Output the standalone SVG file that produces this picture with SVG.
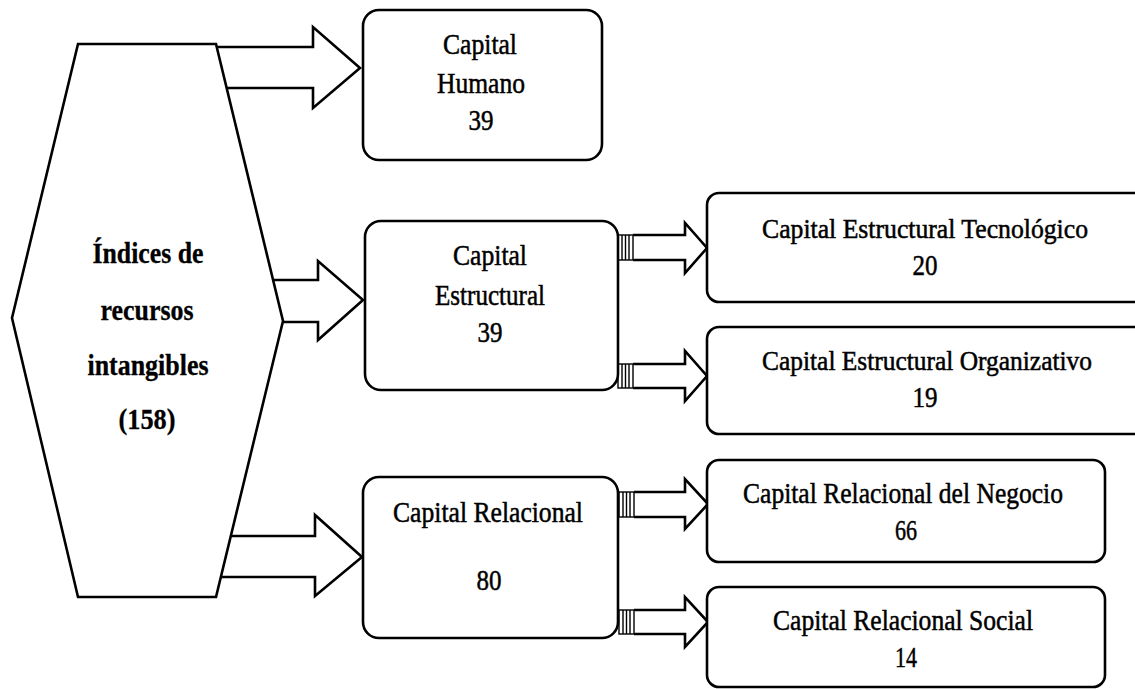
<svg xmlns="http://www.w3.org/2000/svg" width="1135" height="689" viewBox="0 0 1135 689">
<style>
.shape{fill:#fff;stroke:#000;stroke-width:2.6;stroke-linejoin:miter}
.box{fill:#fff;stroke:#000;stroke-width:2.6}
.arrow{fill:#fff;stroke:#000;stroke-width:2.6;stroke-linejoin:miter}
.hatch{fill:#fff;stroke:#000;stroke-width:1.4}
.t{font-family:"Liberation Serif","Times New Roman",serif;font-size:29px;fill:#000;stroke:#000;stroke-width:0.5;text-anchor:middle}
.s{font-size:27px}
.b{font-weight:bold;font-size:30px;stroke-width:0.3}
</style>
<rect width="1135" height="689" fill="#fff"/>
<g id="connectors">
<path class="arrow" d="M216.7,47 H313 V27 L360,68 L313,108 V88 H226.6"/>
<path class="arrow" d="M273,280 H318 V261 L363,300 L318,340 V322 H283"/>
<path class="arrow" d="M231,536 H315 V515 L362,557 L315,596 V577 H221"/>
<path class="arrow" d="M633,235 H685 V223 L707,248 L685,273 V260 H633"/>
<path class="arrow" d="M633,364 H685 V351 L707,376 L685,401 V388 H633"/>
<path class="arrow" d="M634,492 H685 V479 L708,504 L685,529 V517 H634"/>
<path class="arrow" d="M634,610 H685 V597 L708,622 L685,647 V634 H634"/>
<g class="hatch">
<rect x="618" y="235" width="15" height="25"/><path d="M622,235V260M625.5,235V260M629,235V260"/>
<rect x="618" y="364" width="15" height="24"/><path d="M622,364V388M625.5,364V388M629,364V388"/>
<rect x="619" y="492" width="15" height="25"/><path d="M623,492V517M626.5,492V517M630,492V517"/>
<rect x="619" y="610" width="15" height="24"/><path d="M623,610V634M626.5,610V634M630,610V634"/>
</g>
</g>
<g id="indices">
<polygon class="shape" points="78,44 216,44 283,321 216,597 78,597 12,318"/>
<text class="t b" x="148" y="263" textLength="111" lengthAdjust="spacingAndGlyphs">Índices de</text>
<text class="t b" x="147" y="320" textLength="93" lengthAdjust="spacingAndGlyphs">recursos</text>
<text class="t b" x="148" y="375" textLength="121" lengthAdjust="spacingAndGlyphs">intangibles</text>
<text class="t b" x="147" y="429" textLength="57" lengthAdjust="spacingAndGlyphs">(158)</text>
</g>
<g id="humano">
<rect class="box" x="363" y="10" width="239" height="150" rx="16"/>
<text class="t" x="480" y="54" textLength="74" lengthAdjust="spacingAndGlyphs">Capital</text>
<text class="t" x="481" y="93" textLength="88" lengthAdjust="spacingAndGlyphs">Humano</text>
<text class="t" x="481" y="130" textLength="25" lengthAdjust="spacingAndGlyphs">39</text>
</g>
<g id="estructural">
<rect class="box" x="365" y="221" width="253" height="169" rx="16"/>
<text class="t" x="490" y="265" textLength="74" lengthAdjust="spacingAndGlyphs">Capital</text>
<text class="t" x="490" y="305" textLength="110" lengthAdjust="spacingAndGlyphs">Estructural</text>
<text class="t" x="490" y="342" textLength="25" lengthAdjust="spacingAndGlyphs">39</text>
</g>
<g id="relacional">
<rect class="box" x="363" y="477" width="255" height="161" rx="16"/>
<text class="t" x="488" y="522" textLength="190" lengthAdjust="spacingAndGlyphs">Capital Relacional</text>
<text class="t" x="489" y="590" textLength="25" lengthAdjust="spacingAndGlyphs">80</text>
</g>
<g id="tecnologico">
<rect class="box" x="707" y="193" width="440" height="109" rx="12"/>
<text class="t s" x="925" y="238" textLength="326" lengthAdjust="spacingAndGlyphs">Capital Estructural Tecnológico</text>
<text class="t" x="925" y="275" textLength="25" lengthAdjust="spacingAndGlyphs">20</text>
</g>
<g id="organizativo">
<rect class="box" x="707" y="327" width="440" height="107" rx="12"/>
<text class="t s" x="927" y="370" textLength="330" lengthAdjust="spacingAndGlyphs">Capital Estructural Organizativo</text>
<text class="t" x="925" y="407" textLength="25" lengthAdjust="spacingAndGlyphs">19</text>
</g>
<g id="negocio">
<rect class="box" x="707" y="460" width="398" height="102" rx="12"/>
<text class="t" x="903" y="503" textLength="320" lengthAdjust="spacingAndGlyphs">Capital Relacional del Negocio</text>
<text class="t" x="906" y="540" textLength="22" lengthAdjust="spacingAndGlyphs">66</text>
</g>
<g id="social">
<rect class="box" x="707" y="587" width="398" height="100" rx="12"/>
<text class="t" x="903" y="630" textLength="260" lengthAdjust="spacingAndGlyphs">Capital Relacional Social</text>
<text class="t" x="906" y="667" textLength="22" lengthAdjust="spacingAndGlyphs">14</text>
</g>
</svg>
